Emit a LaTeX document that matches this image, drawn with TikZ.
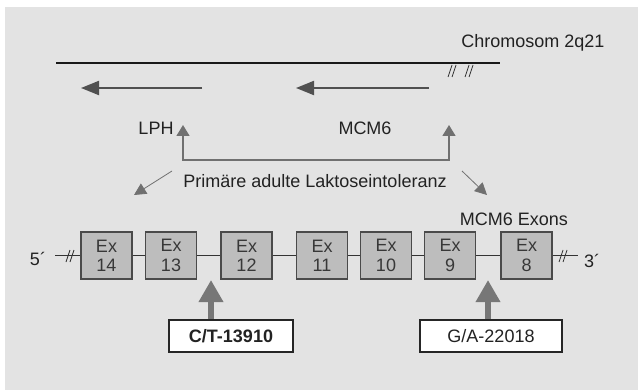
\documentclass[tikz,border=0pt]{standalone}
\usepackage{fontspec}
\setmainfont{Liberation Sans}
\usetikzlibrary{arrows.meta}
\definecolor{panel}{HTML}{E3E3E3}
\definecolor{txt}{HTML}{222222}
\definecolor{trgray}{HTML}{505050}
\definecolor{congray}{HTML}{707070}
\definecolor{exfill}{HTML}{BDBDBD}
\definecolor{exedge}{HTML}{4A4A4A}
\definecolor{biggray}{HTML}{777777}
\begin{document}
\begin{tikzpicture}[x=0.75pt,y=-0.75pt,
  font=\fontsize{13.5}{15}\selectfont, text=txt,
  lbl/.style={inner sep=0pt, text=txt},
  exon/.style={draw=exedge, fill=exfill, line width=0.9pt, minimum width=38.25pt,
    minimum height=35.25pt, inner sep=0pt, align=center, text=txt!90,
    font=\fontsize{13.5}{14.5}\selectfont},
  snpbox/.style={draw=black!85, fill=white, line width=0.9pt, minimum height=24pt,
    inner sep=0pt, text=txt},
  transcript/.style={draw=trgray, line width=1.5pt, -{Triangle[length=13.5pt,width=10.5pt]}},
  connector/.style={draw=congray, line width=1.1pt},
  contip/.style={{Triangle[length=8.25pt,width=9.75pt]}-{Triangle[length=8.25pt,width=9.75pt]}},
  diag/.style={draw=congray, line width=0.6pt, -{Triangle[length=9pt,width=9pt]}},
  bigarrow/.style={draw=biggray, line width=4.5pt, -{Triangle[length=16.5pt,width=17.5pt]}},
  exline/.style={draw=black!80, line width=0.9pt},
  brk/.style={draw=black!80, line width=0.6pt}
]
\useasboundingbox (0,0) rectangle (638,392);
\fill[white] (0,0) rectangle (638,392);
\fill[panel] (5,7) rectangle (638,390);

% chromosome
\node[lbl] (chrom) at (533,43) {Chromosom 2q21};
\coordinate (cl) at (56,63);
\coordinate (cr) at (500,63);
\draw[draw=black!90, line width=1.9pt] (cl) -- (cr);
\draw[brk] (448,77) -- (452,65) (452,77) -- (456,65);
\draw[brk] (465,77) -- (469,65) (469,77) -- (473,65);

% transcripts
\coordinate (t1s) at (202,88);
\coordinate (t1e) at (81,88);
\coordinate (t2s) at (429,88);
\coordinate (t2e) at (296,88);
\draw[transcript] (t1s) -- (t1e);
\draw[transcript] (t2s) -- (t2e);

\node[lbl] (lph) at (156,128) {LPH};
\node[lbl] (mcm) at (365,128) {MCM6};

% bracket
\coordinate (b1) at (183,125);
\coordinate (b1b) at (183,160);
\coordinate (b2b) at (449,160);
\coordinate (b2) at (449,125);
\draw[connector, contip] (b1) -- (b1b) -- (b2b) -- (b2);

\node[lbl] (prim) at (315,181) {Primäre adulte Laktoseintoleranz};
\coordinate (d1s) at (172,171);
\coordinate (d1e) at (134,195);
\coordinate (d2s) at (462,171);
\coordinate (d2e) at (487,195);
\draw[diag] (d1s) -- (d1e);
\draw[diag] (d2s) -- (d2e);

\node[lbl] (exons) at (514,219) {MCM6 Exons};

% exons
\node[exon] (e14) at (106.5,255.5) {Ex\\14};
\node[exon] (e13) at (171,255.5) {Ex\\13};
\node[exon] (e12) at (246.5,255.5) {Ex\\12};
\node[exon] (e11) at (322,255.5) {Ex\\11};
\node[exon] (e10) at (386,255.5) {Ex\\10};
\node[exon] (e9) at (450,255.5) {Ex\\9};
\node[exon] (e8) at (526.5,255.5) {Ex\\8};
\coordinate (xl) at (55,255.5);
\coordinate (xr) at (578,255.5);
\draw[exline] (xl) -- (e14) -- (e13) -- (e12) -- (e11) -- (e10) -- (e9) -- (e8) -- (xr);
\draw[brk] (66,262) -- (70,250) (70,262) -- (74,250);
\draw[brk] (559,262) -- (563,250) (563,262) -- (567,250);
\node[lbl] (five) at (38,259) {5´};
\node[lbl] (three) at (592,261) {3´};

% SNP boxes
\node[snpbox, minimum width=93pt, font=\fontsize{13.5}{15}\selectfont\bfseries] (ct) at (231,336) {C/T-13910};
\node[snpbox, minimum width=106.5pt] (ga) at (491,336) {G/A-22018};
\coordinate (u1) at (211,280);
\coordinate (u2) at (488,280);
\draw[bigarrow] (ct.north -| u1) -- (u1);
\draw[bigarrow] (ga.north -| u2) -- (u2);
\end{tikzpicture}
\end{document}
